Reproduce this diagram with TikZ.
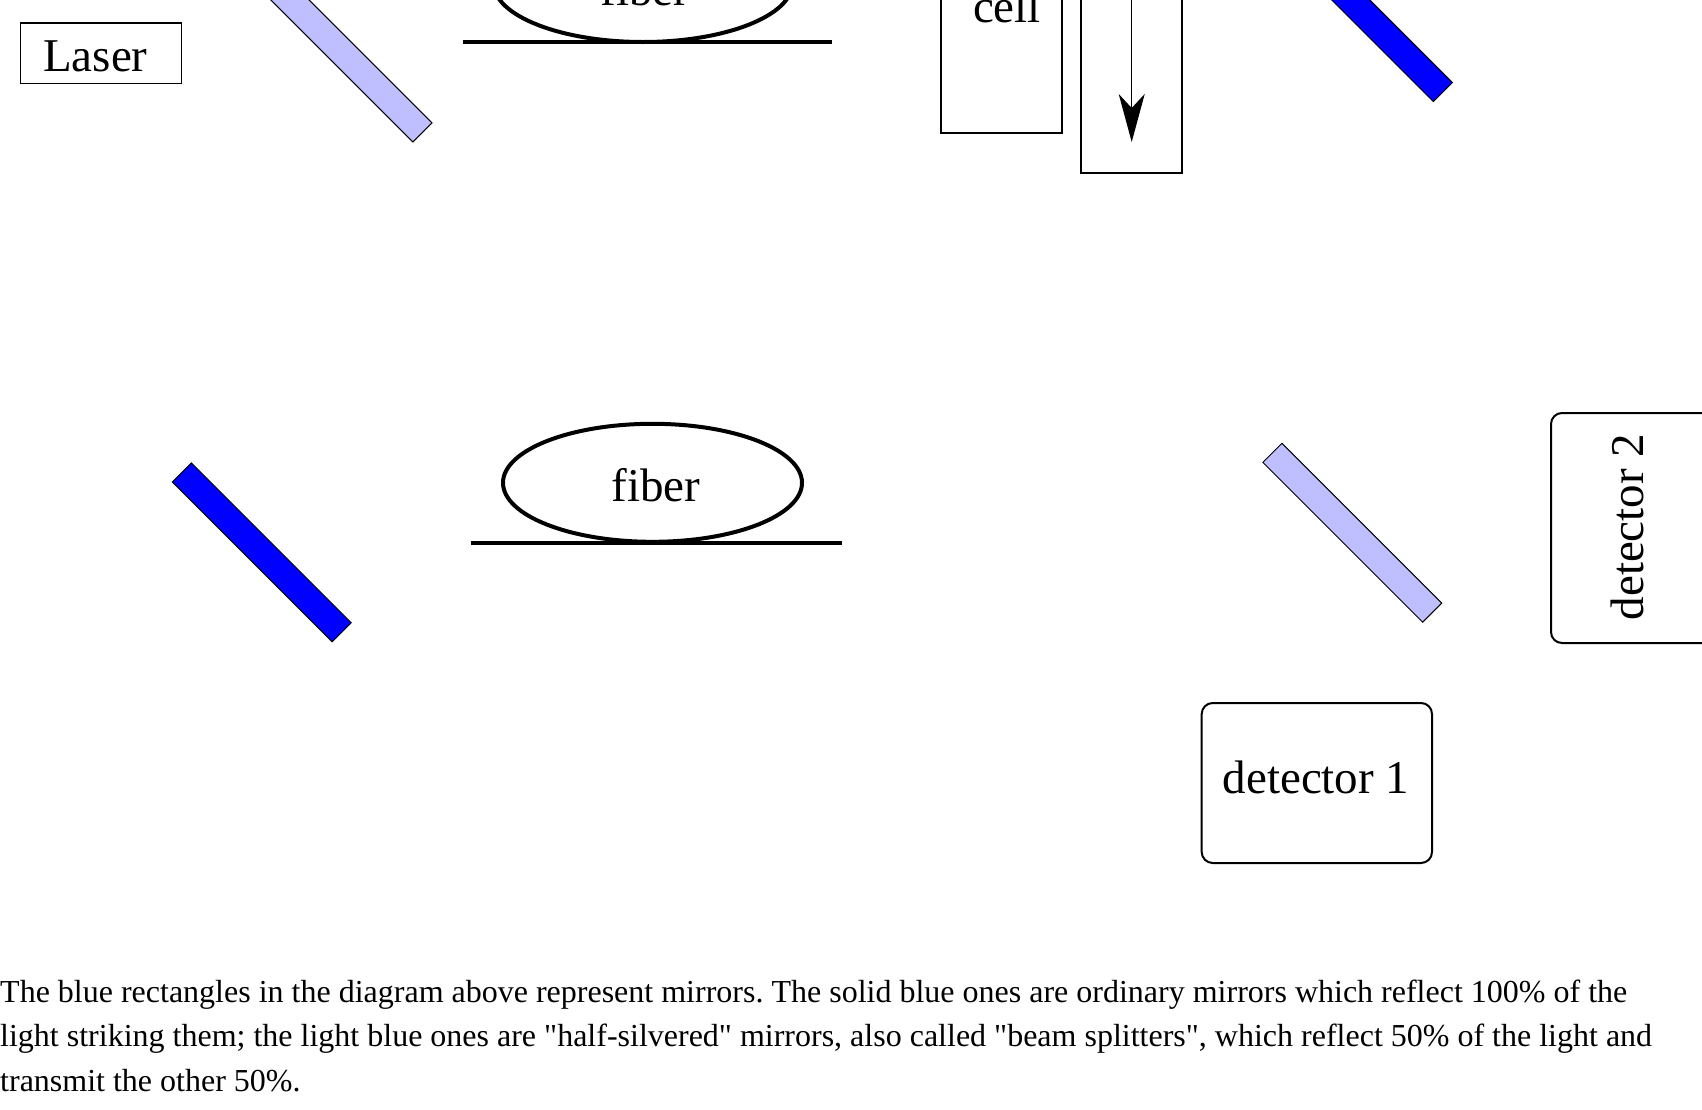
\documentclass[tikz,border=0pt]{standalone}
\usepackage{fontspec}
\setmainfont{Liberation Serif}
\usetikzlibrary{shapes.geometric,arrows.meta}
\definecolor{mirrordark}{RGB}{0,0,255}
\definecolor{mirrorlight}{RGB}{191,191,255}
\frenchspacing
\begin{document}
\begin{tikzpicture}[x=1pt,y=-1pt,
  mirror/.style={draw=black, line width=1pt, rectangle, rotate=-45,
    minimum width=226pt, minimum height=27pt, inner sep=0pt, outer sep=0pt},
  fullmirror/.style={mirror, fill=mirrordark},
  halfmirror/.style={mirror, fill=mirrorlight},
  lbl/.style={font=\fontsize{47}{56}\selectfont, inner sep=0pt},
  capline/.style={font=\fontsize{32}{44}\selectfont, inner sep=0pt, anchor=base west},
  plainbox/.style={draw=black, line width=2pt},
  detbox/.style={draw=black, line width=2pt, rounded corners=11pt},
  fiberloop/.style={draw=black, line width=4pt, ellipse, inner sep=0pt,
    minimum width=299pt, minimum height=118pt},
  fiberline/.style={draw=black, line width=4pt}
]
\useasboundingbox (0,0) rectangle (1702,1109);

% Laser
\draw[plainbox, line width=1.6pt] (20.6,22.8) rectangle (181.3,83.6);
\node[lbl, anchor=base] (laser) at (95.4,71.7) {Laser};

% mirrors
\node[halfmirror] (bs1) at (342.5,52.5) {};
\node[fullmirror] (m1) at (1363,12.2) {};
\node[fullmirror] (m2) at (261.8,552.4) {};
\node[halfmirror] (bs2) at (1352.3,532.7) {};

% top fiber
\node[fiberloop] (fib1) at (643,-17) {};
\coordinate (fl1a) at (462.7,42);
\coordinate (fl1b) at (832,42);
\draw[fiberline] (fl1a) -- (fl1b);
\node[lbl, anchor=base] (fib1t) at (645,5) {fiber};

% bottom fiber
\node[fiberloop] (fib2) at (652.5,482.8) {};
\coordinate (fl2a) at (471,542.7);
\coordinate (fl2b) at (842,542.7);
\draw[fiberline] (fl2a) -- (fl2b);
\node[lbl, anchor=base] (fib2t) at (656,501.7) {fiber};

% cell
\draw[plainbox] (941,-20) rectangle (1062,133);
\node[lbl, anchor=base] (cellt) at (1007,22) {cell};

% second box with arrow
\draw[plainbox] (1081,-20) rectangle (1182,173);
\coordinate (arrtop) at (1131.7,-20);
\coordinate (arrtip) at (1131.7,142);
\draw[line width=1.5pt, -{Stealth[length=48pt,width=26pt,inset=14pt]}] (arrtop) -- (arrtip);

% detectors
\draw[detbox] (1551,413) rectangle (1720,643);
\node[lbl, anchor=base, rotate=90] (det2) at (1643,527) {detector 2};
\draw[detbox] (1201.7,703) rectangle (1432,863);
\node[lbl, anchor=base] (det1) at (1316,793) {detector 1};

% caption
\node[capline] (cap1) at (0,1002) {The blue rectangles in the diagram above represent mirrors. The solid blue ones are ordinary mirrors which reflect 100\% of the};
\node[capline] (cap2) at (0,1046.5) {light striking them; the light blue ones are \textquotedbl half-silvered\textquotedbl{} mirrors, also called \textquotedbl beam splitters\textquotedbl, which reflect 50\% of the light and};
\node[capline] (cap3) at (0,1091) {transmit the other 50\%.};
\end{tikzpicture}
\end{document}
